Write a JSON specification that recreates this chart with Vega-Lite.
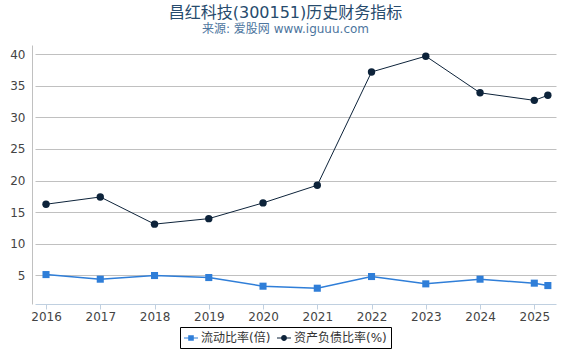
{
  "$schema": "https://vega.github.io/schema/vega-lite/v6.json",
  "width": 521,
  "height": 259,
  "autosize": {"type": "none"},
  "padding": {"left": 35, "top": 45, "right": 14, "bottom": 46},
  "background": "white",
  "title": {
    "text": "昌红科技(300151)历史财务指标",
    "subtitle": "来源: 爱股网 www.iguuu.com",
    "anchor": "middle",
    "dx": -10,
    "offset": 10,
    "font": "DejaVu Sans, Noto Sans CJK SC",
    "fontSize": 16,
    "fontWeight": "normal",
    "color": "#274b6d",
    "subtitleFont": "DejaVu Sans, Noto Sans CJK SC",
    "subtitleFontSize": 12,
    "subtitleColor": "#4d759e",
    "subtitlePadding": 3
  },
  "data": {
    "values": [
      {"year": 2016, "series": "流动比率(倍)", "value": 5.11},
      {"year": 2017, "series": "流动比率(倍)", "value": 4.38},
      {"year": 2018, "series": "流动比率(倍)", "value": 4.96},
      {"year": 2019, "series": "流动比率(倍)", "value": 4.64},
      {"year": 2020, "series": "流动比率(倍)", "value": 3.27},
      {"year": 2021, "series": "流动比率(倍)", "value": 2.95},
      {"year": 2022, "series": "流动比率(倍)", "value": 4.80},
      {"year": 2023, "series": "流动比率(倍)", "value": 3.64},
      {"year": 2024, "series": "流动比率(倍)", "value": 4.38},
      {"year": 2025, "series": "流动比率(倍)", "value": 3.75},
      {"year": 2025.25, "series": "流动比率(倍)", "value": 3.37},
      {"year": 2016, "series": "资产负债比率(%)", "value": 16.25},
      {"year": 2017, "series": "资产负债比率(%)", "value": 17.4},
      {"year": 2018, "series": "资产负债比率(%)", "value": 13.1},
      {"year": 2019, "series": "资产负债比率(%)", "value": 13.97},
      {"year": 2020, "series": "资产负债比率(%)", "value": 16.46},
      {"year": 2021, "series": "资产负债比率(%)", "value": 19.26},
      {"year": 2022, "series": "资产负债比率(%)", "value": 37.2},
      {"year": 2023, "series": "资产负债比率(%)", "value": 39.7},
      {"year": 2024, "series": "资产负债比率(%)", "value": 33.9},
      {"year": 2025, "series": "资产负债比率(%)", "value": 32.7},
      {"year": 2025.25, "series": "资产负债比率(%)", "value": 33.5}
    ]
  },
  "encoding": {
    "x": {
      "field": "year",
      "type": "quantitative",
      "scale": {"domain": [2015.797, 2025.4], "nice": false, "zero": false},
      "axis": {
        "title": null,
        "values": [2016, 2017, 2018, 2019, 2020, 2021, 2022, 2023, 2024, 2025],
        "format": "d",
        "grid": false,
        "domainColor": "#c0d0e0",
        "tickColor": "#c0d0e0",
        "tickSize": 5,
        "labelPadding": 2,
        "labelFont": "DejaVu Sans",
        "labelFontSize": 12,
        "labelColor": "#444444"
      }
    },
    "y": {
      "field": "value",
      "type": "quantitative",
      "scale": {"domain": [0.45, 41.47], "nice": false, "zero": false},
      "axis": {
        "title": null,
        "values": [5, 10, 15, 20, 25, 30, 35, 40],
        "offset": 3,
        "ticks": false,
        "grid": true,
        "gridColor": "#c0c0c0",
        "domainColor": "#c0c0c0",
        "labelPadding": 7,
        "labelFont": "DejaVu Sans",
        "labelFontSize": 12,
        "labelColor": "#444444"
      }
    }
  },
  "layer": [
    {
      "transform": [{"filter": "datum.series === '流动比率(倍)'"}],
      "mark": {"type": "line", "color": "#2f7ed8", "strokeWidth": 1.5},
      "encoding": {}
    },
    {
      "transform": [{"filter": "datum.series === '流动比率(倍)'"}],
      "mark": {"type": "point", "shape": "square", "filled": true, "size": 50, "color": "#2f7ed8", "opacity": 1},
      "encoding": {}
    },
    {
      "transform": [{"filter": "datum.series === '资产负债比率(%)'"}],
      "mark": {"type": "line", "color": "#0d233a", "strokeWidth": 1},
      "encoding": {}
    },
    {
      "transform": [{"filter": "datum.series === '资产负债比率(%)'"}],
      "mark": {"type": "point", "shape": "circle", "filled": true, "size": 55, "color": "#0d233a", "opacity": 1},
      "encoding": {}
    },
    {
      "mark": {"type": "point", "filled": true, "opacity": 0},
      "encoding": {
        "fill": {
          "field": "series",
          "type": "nominal",
          "scale": {"domain": ["流动比率(倍)", "资产负债比率(%)"], "range": ["#2f7ed8", "#0d233a"]},
          "legend": {"title": null, "orient": "none", "legendX": 145, "legendY": 282, "direction": "horizontal"}
        },
        "shape": {
          "field": "series",
          "type": "nominal",
          "scale": {
            "domain": ["流动比率(倍)", "资产负债比率(%)"],
            "range": [
              "M-1,-0.08H1V0.08H-1Z M-0.4,-0.4H0.4V0.4H-0.4Z",
              "M-1,-0.08H1V0.08H-1Z M-0.42,0A0.42,0.42 0 1,1 0.42,0A0.42,0.42 0 1,1 -0.42,0Z"
            ]
          },
          "legend": {"title": null, "orient": "none", "legendX": 145, "legendY": 282, "direction": "horizontal"}
        }
      }
    }
  ],
  "config": {
    "view": {"stroke": null},
    "legend": {
      "strokeColor": "#000000",
      "padding": 4,
      "symbolSize": 196,
      "symbolStrokeWidth": 0,
      "symbolOpacity": 1,
      "labelFont": "DejaVu Sans, Noto Sans CJK SC",
      "labelFontSize": 12,
      "labelColor": "#333333",
      "columnPadding": 6,
      "labelOffset": 3
    }
  }
}
